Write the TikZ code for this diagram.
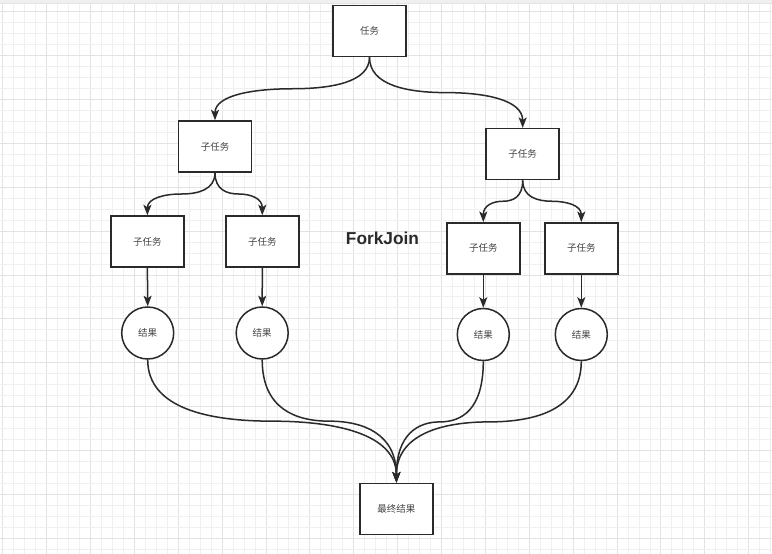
\documentclass[tikz,border=0pt]{standalone}
\usepackage{fontspec}
\setmainfont{Liberation Sans}
\newfontfamily\cjk{Noto Sans CJK SC}
\usetikzlibrary{arrows.meta,calc}
\definecolor{gridminor}{HTML}{F0F0F0}
\definecolor{gridmajor}{HTML}{E3E3E3}
\definecolor{ink}{HTML}{2A2A2A}
\definecolor{txt}{HTML}{444444}
\newcommand{\fjcurve}[3]{%
  \coordinate (#3) at ($(#1)!0.5!(#2)$);
  \draw[conn] (#1) .. controls ($(#1)!0.8!(#1|-#3)$) and ($(#3)!0.5!(#3-|#1)$) .. (#3)
    .. controls ($(#3)!0.5!(#3-|#2)$) and ($(#2)!0.8!(#2|-#3)$) .. (#2);}
\tikzset{
  box/.style={draw=ink, line width=1.5pt, fill=white, minimum width=73pt, minimum height=51pt, inner sep=0pt, font=\cjk\fontsize{9.5pt}{11pt}\selectfont, text=txt},
  res/.style={circle, draw=ink, line width=1.5pt, fill=white, minimum size=52pt, inner sep=0pt, font=\cjk\fontsize{9.5pt}{11pt}\selectfont, text=txt},
  conn/.style={draw=ink, line width=1.5pt, -{Stealth[length=10.5pt,width=8pt,inset=2.5pt]}},
  title/.style={font=\bfseries\fontsize{17.3pt}{20pt}\selectfont, text=ink, inner sep=0pt}
}
\begin{document}
\begin{tikzpicture}[x=1pt,y=-1pt]
\useasboundingbox (0,0) rectangle (772,554);
\fill[white] (0,0) rectangle (772,554);
% grid
\foreach \k in {0,...,71}{
  \pgfmathsetmacro{\gx}{2.7+10.97*\k}
  \pgfmathtruncatemacro{\mm}{mod(\k,4)}
  \ifnum\mm=0
    \draw[gridmajor, line width=0.9pt] (\gx,0) -- (\gx,554);
  \else
    \draw[gridminor, line width=0.8pt] (\gx,0) -- (\gx,554);
  \fi
}
\foreach \k in {1,...,51}{
  \pgfmathsetmacro{\gy}{0.7+10.97*\k}
  \pgfmathtruncatemacro{\mm}{mod(\k,4)}
  \ifnum\mm=1
    \draw[gridmajor, line width=0.9pt] (0,\gy) -- (772,\gy);
  \else
    \draw[gridminor, line width=0.8pt] (0,\gy) -- (772,\gy);
  \fi
}
\fill[gridminor] (0,0) rectangle (772,3);
\draw[gridmajor, line width=0.9pt] (0,3) -- (772,3);

% nodes
\node[box] (t) at (369.5,31) {任务};
\node[box] (s1) at (215,146.5) {子任务};
\node[box] (s2) at (522.7,154.2) {子任务};
\node[box] (a1) at (147.4,241.5) {子任务};
\node[box] (a2) at (262.3,241.5) {子任务};
\node[box] (b1) at (483.3,248.3) {子任务};
\node[box] (b2) at (581.3,248.3) {子任务};
\node[res] (r1) at (147.7,333) {结果};
\node[res] (r2) at (262.2,333) {结果};
\node[res] (r3) at (483.3,334.5) {结果};
\node[res] (r4) at (581.3,334.5) {结果};
\node[box] (f) at (396.4,508.8) {最终结果};
\node[title] (fj) at (382.5,238) {ForkJoin};

% connectors
\fjcurve{t.south}{s1.north}{m1}
\fjcurve{t.south}{s2.north}{m2}
\fjcurve{s1.south}{a1.north}{m3}
\fjcurve{s1.south}{a2.north}{m4}
\fjcurve{s2.south}{b1.north}{m5}
\fjcurve{s2.south}{b2.north}{m6}
\draw[conn] (a1.south) -- (r1.north);
\draw[conn] (a2.south) -- (r2.north);
\draw[conn] (b1.south) -- (r3.north);
\draw[conn] (b2.south) -- (r4.north);
\fjcurve{r1.south}{f.north}{m7}
\fjcurve{r2.south}{f.north}{m8}
\fjcurve{r3.south}{f.north}{m9}
\fjcurve{r4.south}{f.north}{m10}
\end{tikzpicture}
\end{document}
